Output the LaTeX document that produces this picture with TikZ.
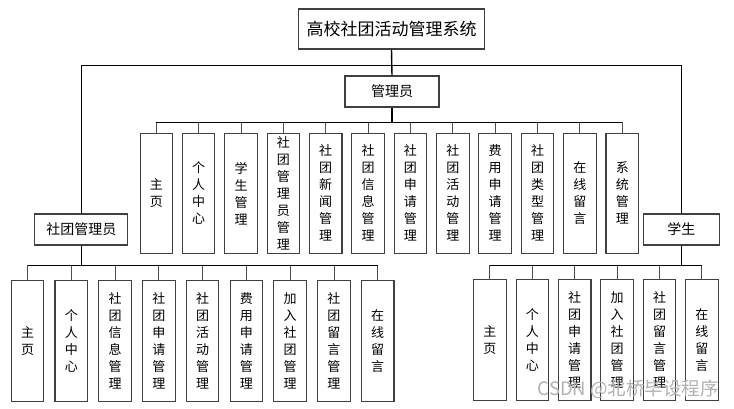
\documentclass[tikz,border=0pt]{standalone}
\usepackage{fontspec}
\setmainfont{Noto Sans CJK SC}
\begin{document}
\begin{tikzpicture}[x=1pt,y=-1pt,
  box/.style={draw=black!75, line width=1.1pt, fill=white, inner sep=0pt, align=center},
  leaf/.style={box, minimum width=32.5pt, font=\fontsize{13}{17}\selectfont},
  role/.style={box, minimum height=31pt, font=\fontsize{14}{17}\selectfont},
  wire/.style={line width=0.9pt, draw=black!70},
  bus/.style={line width=1.4pt, draw=black}]
\fill[white] (0,0) rectangle (734,409);
\useasboundingbox (0,0) rectangle (734,409);
% top
\node[box, minimum width=186pt, minimum height=40pt, font=\fontsize{17}{20}\selectfont] (sys) at (391.5,29) {高校社团活动管理系统};
\node[role, minimum width=94pt] (adm) at (392,91.5) {管理员};
\node[role, minimum width=93pt] (club) at (81.4,229.5) {社团管理员};
\node[role, minimum width=76pt] (stu) at (681.3,229.5) {学生};
\coordinate (hub) at (392,65.5);
\draw[bus] (sys.south) -- (adm.north);
\draw[bus] (club.north) |- (hub) -| (stu.north);
% admin children
\coordinate (abus) at (392,122.5);
\draw[bus] (adm.south) -- (abus);
\foreach \t [count=\i from 0] in {{主\\页},{个\\人\\中\\心},{学\\生\\管\\理},{社\\团\\管\\理\\员\\管\\理},{社\\团\\新\\闻\\管\\理},{社\\团\\信\\息\\管\\理},{社\\团\\申\\请\\管\\理},{社\\团\\活\\动\\管\\理},{费\\用\\申\\请\\管\\理},{社\\团\\类\\型\\管\\理},{在\\线\\留\\言},{系\\统\\管\\理}}{
  \node[leaf, minimum height=120pt] (a\i) at (156.3+\i*42.36,193.3) {\t};
  \draw[wire] (a\i.north) |- (abus);
}
\draw[bus] (a0.north |- abus) -- (a11.north |- abus);
% club admin children
\coordinate (cbus) at (81.4,265.7);
\draw[bus] (club.south) -- (cbus);
\foreach \t [count=\i from 0] in {{主\\页},{个\\人\\中\\心},{社\\团\\信\\息\\管\\理},{社\\团\\申\\请\\管\\理},{社\\团\\活\\动\\管\\理},{费\\用\\申\\请\\管\\理},{加\\入\\社\\团\\管\\理},{社\\团\\留\\言\\管\\理},{在\\线\\留\\言}}{
  \node[leaf, minimum height=121pt] (c\i) at (27.5+\i*43.78,340.8) {\t};
  \draw[wire] (c\i.north) |- (cbus);
}
\draw[bus] (c0.north |- cbus) -- (c8.north |- cbus);
% student children
\coordinate (sbus) at (681.3,265.7);
\draw[bus] (stu.south) -- (sbus);
\foreach \t [count=\i from 0] in {{主\\页},{个\\人\\中\\心},{社\\团\\申\\请\\管\\理},{加\\入\\社\\团\\管\\理},{社\\团\\留\\言\\管\\理},{在\\线\\留\\言}}{
  \node[leaf, minimum height=121pt] (s\i) at (489.9+\i*42.4,339.7) {\t};
  \draw[wire] (s\i.north) |- (sbus);
}
\draw[bus] (s0.north |- sbus) -- (s5.north |- sbus);
% watermark
\node[text=black!30, font=\fontsize{18.5}{20}\selectfont, anchor=east, inner sep=0pt] (wm) at (719,389) {CSDN @北桥毕设程序};
\end{tikzpicture}
\end{document}
